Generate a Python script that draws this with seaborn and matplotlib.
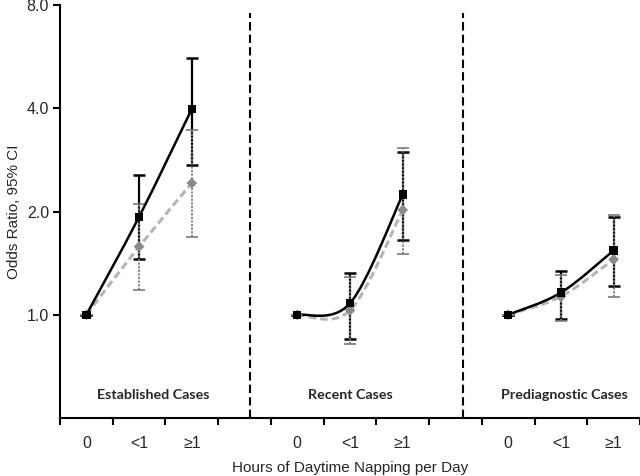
import numpy as np
import pandas as pd
import matplotlib
matplotlib.use("Agg")
import matplotlib.pyplot as plt
import seaborn as sns
from matplotlib.path import Path
from matplotlib.patches import PathPatch

sns.set_style("ticks")
plt.rcParams['font.family'] = ['Liberation Sans', 'DejaVu Sans']

# valeurs
panels = ["Established Cases", "Recent Cases", "Prediagnostic Cases"]
cats = ["0", "<1", "≥1"]

# serie noire (trait plein, carrés)
or_a = [1.0, 1.93, 3.98, 1.0, 1.08, 2.24, 1.0, 1.16, 1.54]
lo_a = [1.0, 1.45, 2.74, 1.0, 0.85, 1.65, 1.0, 0.97, 1.21]
hi_a = [1.0, 2.55, 5.62, 1.0, 1.32, 2.98, 1.0, 1.34, 1.93]
# serie grise (tirets, losanges)
or_b = [1.0, 1.58, 2.42, 1.0, 1.03, 2.02, 1.0, 1.13, 1.45]
lo_b = [1.0, 1.18, 1.68, 1.0, 0.82, 1.50, 1.0, 0.96, 1.13]
hi_b = [1.0, 2.10, 3.46, 1.0, 1.29, 3.07, 1.0, 1.31, 1.95]

rows = []
for s, (o, l, h) in {"a": (or_a, lo_a, hi_a), "b": (or_b, lo_b, hi_b)}.items():
    for k in range(9):
        p, c = divmod(k, 3)
        rows.append({"serie": s, "panel": p, "cat": c, "x": 4 * p + c + 0.5,
                     "OR": o[k], "lo": l[k], "hi": h[k]})
data = pd.DataFrame(rows)

fig = plt.figure(figsize=(6.4, 4.76), dpi=100)
ax = fig.add_axes([60 / 640, 1 - 418 / 476, 580 / 640, 413 / 476])


# courbe lissée façon Excel (bezier calculée en espace log)
def courbe_lissee(d, couleur, lw, ls, z):
    px = d.x.values
    py = np.log2(d.OR.values)
    n = len(px)
    verts = [(px[0], d.OR.values[0])]
    codes = [Path.MOVETO]
    for i in range(n - 1):
        j0 = max(i - 1, 0)
        j3 = min(i + 2, n - 1)
        c1x = px[i] + (px[i + 1] - px[j0]) / 6
        c1y = py[i] + (py[i + 1] - py[j0]) / 6
        c2x = px[i + 1] - (px[j3] - px[i]) / 6
        c2y = py[i + 1] - (py[j3] - py[i]) / 6
        verts += [(c1x, 2 ** c1y), (c2x, 2 ** c2y), (px[i + 1], 2 ** py[i + 1])]
        codes += [Path.CURVE4] * 3
    patch = PathPatch(Path(verts, codes), facecolor="none", edgecolor=couleur,
                      lw=lw, linestyle=ls, zorder=z, capstyle="butt")
    ax.add_patch(patch)


ax.set_yscale("log", base=2)

# barres d'erreur
da = data[data.serie == "a"]
db = data[data.serie == "b"]
ax.errorbar(da.x, da.OR, yerr=[da.OR - da.lo, da.hi - da.OR], fmt="none",
            ecolor="black", elinewidth=1.6, capsize=4.5, capthick=1.8, zorder=2)
eb = ax.errorbar(db.x, db.OR, yerr=[db.OR - db.lo, db.hi - db.OR], fmt="none",
                 ecolor="#7a7a7a", elinewidth=1.3, capsize=4, capthick=1.2, zorder=3)
eb[2][0].set_linestyle((0, (1.2, 0.8)))

for p in range(3):
    courbe_lissee(db[db.panel == p], "#b5b5b5", 2.2, (0, (2.5, 1.3)), 4)
    courbe_lissee(da[da.panel == p], "black", 1.8, "-", 5)

sns.scatterplot(x="x", y="OR", data=db, marker="D", s=30, color="#8a8a8a",
                edgecolor="none", zorder=6, legend=False, ax=ax)
sns.scatterplot(x="x", y="OR", data=da, marker="s", s=36, color="black",
                edgecolor="none", zorder=7, legend=False, ax=ax)

# séparateurs
for xv in [3.6, 7.65]:
    ax.axvline(xv, ymin=0, ymax=0.98, color="black", lw=1.5, ls=(0, (4, 2)), zorder=1)

# titres des panneaux
for p, nom in enumerate(panels):
    ax.text([1.76, 5.5, 9.56][p], 0.585, nom, ha="center", va="center",
            fontsize=10.3, fontweight="bold", family=["Lato", "DejaVu Sans"])

ax.set_xlim(0, 11)
ax.set_ylim(0.5, 8)
ax.set_yticks([1, 2, 4, 8])
ax.set_yticklabels(["1.0", "2.0", "4.0", "8.0"], fontsize=11.5)
ax.yaxis.set_minor_locator(matplotlib.ticker.NullLocator())
ax.set_xticks(range(12))
ax.set_xticklabels([""] * 12)
ax.set_xticks([4 * p + c + 0.5 for p in range(3) for c in range(3)], minor=True)
ax.set_xticklabels(cats * 3, minor=True, fontsize=11.5)
ax.tick_params(axis="x", which="minor", length=0, pad=13)
ax.tick_params(axis="both", which="major", length=5, width=1.5, direction="out", color="black")
ax.tick_params(axis="y", pad=3)

for sp in ["top", "right"]:
    ax.spines[sp].set_visible(False)
for sp in ["left", "bottom"]:
    ax.spines[sp].set_linewidth(1.5)
    ax.spines[sp].set_color("black")

ax.set_xlabel("Hours of Daytime Napping per Day", fontsize=11)
ax.set_ylabel("Odds Ratio, 95% CI", fontsize=11)
ax.xaxis.set_label_coords(0.5, -0.103)
ax.yaxis.set_label_coords(-0.068, 0.5)

plt.savefig("out.png", dpi=100)
